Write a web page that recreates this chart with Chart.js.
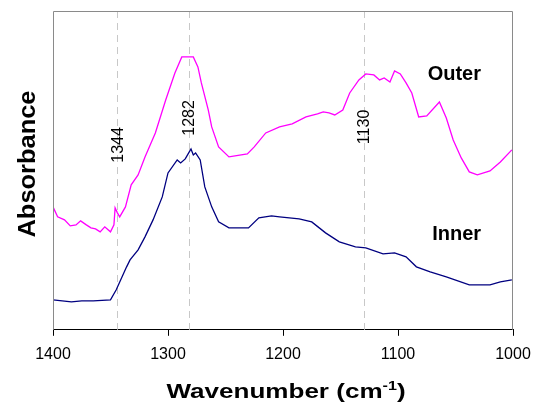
<!DOCTYPE html>
<html>
<head>
<meta charset="utf-8">
<script src="https://cdn.jsdelivr.net/npm/chart.js@4/dist/chart.umd.min.js"></script>
<style>
  html, body { margin: 0; padding: 0; background: #fff; }
  #wrap { width: 534px; height: 406px; }
</style>
</head>
<body>
<div id="wrap"><canvas id="irChart"></canvas></div>
<script>
// ============ 1. DATA ============

const outerWavenumbers = [1400, 1396, 1390, 1385, 1380, 1376, 1371, 1367, 1363, 1359, 1355, 1350, 1347, 1346, 1344, 1342, 1337, 1332, 1326, 1320, 1311, 1302, 1294, 1288, 1278, 1274, 1271, 1265, 1262, 1256, 1247, 1231, 1225, 1215, 1203, 1192, 1180, 1170, 1165, 1160, 1155, 1148, 1142, 1134, 1128, 1121, 1116, 1112, 1107, 1103, 1098, 1093, 1088, 1082, 1075, 1064, 1058, 1052, 1045, 1038, 1031, 1020, 1011, 1001];
const outerAbsorbance = [122, 112, 109, 103, 104, 108, 104, 101, 100, 97, 102, 97, 104, 121, 116, 112, 122, 144, 154, 172, 196, 229, 256, 272, 272, 262, 246, 219, 202, 182, 172, 175, 182, 196, 202, 205, 212, 215, 217, 216, 214, 219, 236, 249, 255, 254, 249, 251, 247, 258, 255, 246, 236, 212, 213, 227, 211, 189, 171, 157, 154, 158, 167, 179];

const innerWavenumbers = [1400, 1392, 1384, 1375, 1365, 1350, 1345, 1336, 1333, 1326, 1320, 1313, 1305, 1300, 1292, 1289, 1285, 1282, 1280, 1278, 1276, 1272, 1268, 1262, 1256, 1247, 1230, 1221, 1210, 1203, 1186, 1175, 1163, 1151, 1137, 1128, 1113, 1103, 1093, 1084, 1072, 1058, 1038, 1020, 1011, 1001];
const innerAbsorbance = [29, 28, 27, 28, 28, 29, 39, 62, 69, 79, 92, 109, 132, 156, 169, 166, 170, 176, 180, 174, 176, 169, 142, 122, 107, 101, 101, 111, 113, 112, 110, 107, 96, 87, 82, 81, 75, 76, 72, 62, 57, 52, 44, 44, 47, 49];

const markerPositions = [1344, 1282, 1130];
const markerLabels = ["1344", "1282", "1130"];
const markerLabelHeights = [184, 211, 202];

const xTicks = [1400, 1300, 1200, 1100, 1000];

// ============ 2. PLUGINS ============

const FONT = "'Liberation Sans', Arial, sans-serif";

// gray box round the plot area
const frameBox = {
  id: "frameBox",
  afterDraw(chart) {
    const { ctx, chartArea } = chart;
    ctx.save();
    ctx.strokeStyle = "#8a8a8a";
    ctx.lineWidth = 1;
    ctx.beginPath();
    ctx.moveTo(chartArea.left + 0.5, chartArea.bottom);
    ctx.lineTo(chartArea.left + 0.5, chartArea.top + 0.5);
    ctx.lineTo(chartArea.right - 0.5, chartArea.top + 0.5);
    ctx.lineTo(chartArea.right - 0.5, chartArea.bottom);
    ctx.stroke();
    ctx.restore();
  },
};

// axis titles (drawn by hand for the superscript and the wide lettering)
const axisTitles = {
  id: "axisTitles",
  afterDraw(chart) {
    const { ctx, chartArea } = chart;
    ctx.save();
    ctx.fillStyle = "#000";
    ctx.textBaseline = "alphabetic";
    ctx.textAlign = "left";

    // x title: "Wavenumber (cm-1)"
    const main = "Wavenumber (cm";
    const sup = "-1";
    const close = ")";
    const big = "bold 21px " + FONT;
    const small = "bold 13px " + FONT;
    ctx.font = big;
    const wMain = ctx.measureText(main).width;
    const wClose = ctx.measureText(close).width;
    ctx.font = small;
    const wSup = ctx.measureText(sup).width;
    const stretch = 1.24;
    const total = (wMain + wSup + wClose) * stretch;
    const cx = (chartArea.left + chartArea.right) / 2 + 3;
    ctx.save();
    ctx.translate(cx - total / 2, 398);
    ctx.scale(stretch, 1);
    ctx.font = big;
    ctx.fillText(main, 0, 0);
    ctx.font = small;
    ctx.fillText(sup, wMain, -8);
    ctx.font = big;
    ctx.fillText(close, wMain + wSup, 0);
    ctx.restore();

    // y title: "Absorbance"
    ctx.save();
    ctx.font = "bold 24px " + FONT;
    ctx.textAlign = "center";
    ctx.translate(35, 164);
    ctx.rotate(-Math.PI / 2);
    ctx.scale(1.06, 1);
    ctx.fillText("Absorbance", 0, 0);
    ctx.restore();

    ctx.restore();
  },
};

// dashed peak lines with rotated labels
const peakMarkers = {
  id: "peakMarkers",
  beforeDatasetsDraw(chart) {
    const { ctx, chartArea, scales } = chart;
    ctx.save();
    ctx.strokeStyle = "#c8c8c8";
    ctx.lineWidth = 1;
    ctx.setLineDash([7, 5]);
    markerPositions.forEach((wn) => {
      const x = Math.round(scales.x.getPixelForValue(wn)) + 0.5;
      ctx.beginPath();
      ctx.moveTo(x, chartArea.top);
      ctx.lineTo(x, chartArea.bottom);
      ctx.stroke();
    });
    ctx.restore();
  },
  afterDatasetsDraw(chart) {
    const { ctx, scales } = chart;
    ctx.save();
    ctx.fillStyle = "#000";
    ctx.font = "16px " + FONT;
    ctx.textAlign = "center";
    ctx.textBaseline = "middle";
    markerPositions.forEach((wn, i) => {
      const x = scales.x.getPixelForValue(wn) + 1;
      const y = scales.y.getPixelForValue(markerLabelHeights[i]);
      ctx.save();
      ctx.translate(x, y);
      ctx.rotate(-Math.PI / 2);
      ctx.fillText(markerLabels[i], 0, 0);
      ctx.restore();
    });

    // series names
    ctx.font = "bold 20px " + FONT;
    ctx.fillText("Outer", scales.x.getPixelForValue(1051), scales.y.getPixelForValue(254));
    ctx.fillText("Inner", scales.x.getPixelForValue(1049), scales.y.getPixelForValue(94));
    ctx.restore();
  },
};

// ============ 3. RENDER CHART ============

document.addEventListener("DOMContentLoaded", () => {
  const canvas = document.getElementById("irChart");

  new Chart(canvas, {
    type: "scatter",
    data: {
      datasets: [
        {
          label: "Outer",
          data: outerWavenumbers.map((x, i) => ({ x, y: outerAbsorbance[i] })),
          borderColor: "#ff00ff",
          borderWidth: 1.3,
          showLine: true,
          pointRadius: 0,
          tension: 0,
        },
        {
          label: "Inner",
          data: innerWavenumbers.map((x, i) => ({ x, y: innerAbsorbance[i] })),
          borderColor: "#000080",
          borderWidth: 1.3,
          showLine: true,
          pointRadius: 0,
          tension: 0,
        },
      ],
    },
    options: {
      responsive: true,
      maintainAspectRatio: false,
      animation: false,
      layout: { padding: { top: 11, right: 21, left: 53, bottom: 33 } },
      plugins: {
        legend: { display: false },
        tooltip: { enabled: false },
      },
      scales: {
        x: {
          type: "linear",
          reverse: true,
          min: 1000,
          max: 1400,
          afterBuildTicks: (axis) => {
            axis.ticks = xTicks.map((v) => ({ value: v }));
          },
          afterFit: (axis) => {
            axis.paddingLeft = 0;
            axis.paddingRight = 0;
          },
          border: { color: "#000", width: 1 },
          grid: {
            drawOnChartArea: false,
            drawTicks: true,
            tickLength: 6,
            color: "#000",
          },
          ticks: {
            color: "#000",
            font: { family: FONT, size: 16 },
            padding: 9,
            maxRotation: 0,
            callback: (v) => String(v),
          },
        },
        y: {
          display: false,
          min: -1,
          max: 318,
        },
      },
    },
    plugins: [frameBox, peakMarkers, axisTitles],
  });
});
</script>
</body>
</html>
